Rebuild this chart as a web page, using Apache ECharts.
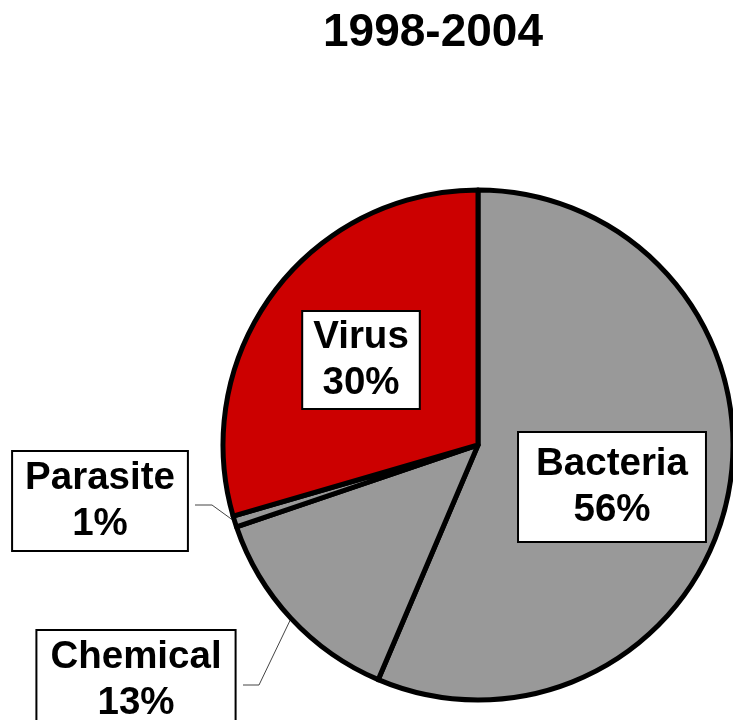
<!DOCTYPE html>
<html>
<head>
<meta charset="utf-8">
<script src="https://cdn.jsdelivr.net/npm/echarts@6/dist/echarts.min.js"></script>
<style>
  html, body { margin: 0; padding: 0; background: #fff; }
  #chart { width: 733px; height: 720px; }
</style>
</head>
<body>
<div id="chart"></div>
<script>
// data
var categories = ["Bacteria", "Chemical", "Parasite", "Virus"];
var shares = [56.4, 13.4, 0.7, 29.5];
var sliceColors = ["#999999", "#cc0000"];
var colorIndex = [0, 0, 0, 1];

// label box layout (centre of each box) and leader-line elbows
var labelPos = [[612, 487], [136, 680], [100, 501], [361, 360]];
var labelPad = [[8, 17], [3, 13], [3, 12], [2, 10]];
var elbows = [null, [[259, 685], [243, 685]], [[212, 505], [195, 505]], null];

var chart = echarts.init(document.getElementById("chart"));

var data = categories.map(function (name, i) {
  var outside = elbows[i] !== null;
  return {
    name: name,
    value: shares[i],
    itemStyle: { color: sliceColors[colorIndex[i]] },
    label: { position: outside ? "outside" : "inside", padding: labelPad[i] },
    labelLine: { show: outside }
  };
});

var option = {
  backgroundColor: "#fff",
  animation: false,
  title: {
    text: "1998-2004",
    left: 428,
    top: 5,
    textAlign: "center",
    textStyle: {
      fontFamily: "Liberation Sans",
      fontSize: 46,
      fontWeight: "bold",
      color: "#000"
    }
  },
  series: [
    {
      type: "pie",
      center: [478, 445],
      radius: 255,
      startAngle: 90,
      clockwise: true,
      avoidLabelOverlap: false,
      itemStyle: { borderColor: "#000", borderWidth: 5 },
      label: {
        show: true,
        formatter: function (p) {
          return p.name + "\n" + Math.round(p.percent) + "%";
        },
        fontFamily: "Liberation Sans",
        fontSize: 38.5,
        fontWeight: "bold",
        lineHeight: 46,
        color: "#000",
        align: "center",
        backgroundColor: "#fff",
        borderColor: "#000",
        borderWidth: 2
      },
      labelLine: {
        lineStyle: { color: "#444", width: 1 }
      },
      labelLayout: function (params) {
        var i = params.dataIndex;
        var out = {
          x: labelPos[i][0],
          y: labelPos[i][1],
          align: "center",
          verticalAlign: "middle"
        };
        if (elbows[i] && params.labelLinePoints) {
          out.labelLinePoints = [
            params.labelLinePoints[0],
            elbows[i][0],
            elbows[i][1]
          ];
        }
        return out;
      },
      emphasis: { disabled: true },
      data: data
    }
  ]
};

chart.setOption(option);
</script>
</body>
</html>
